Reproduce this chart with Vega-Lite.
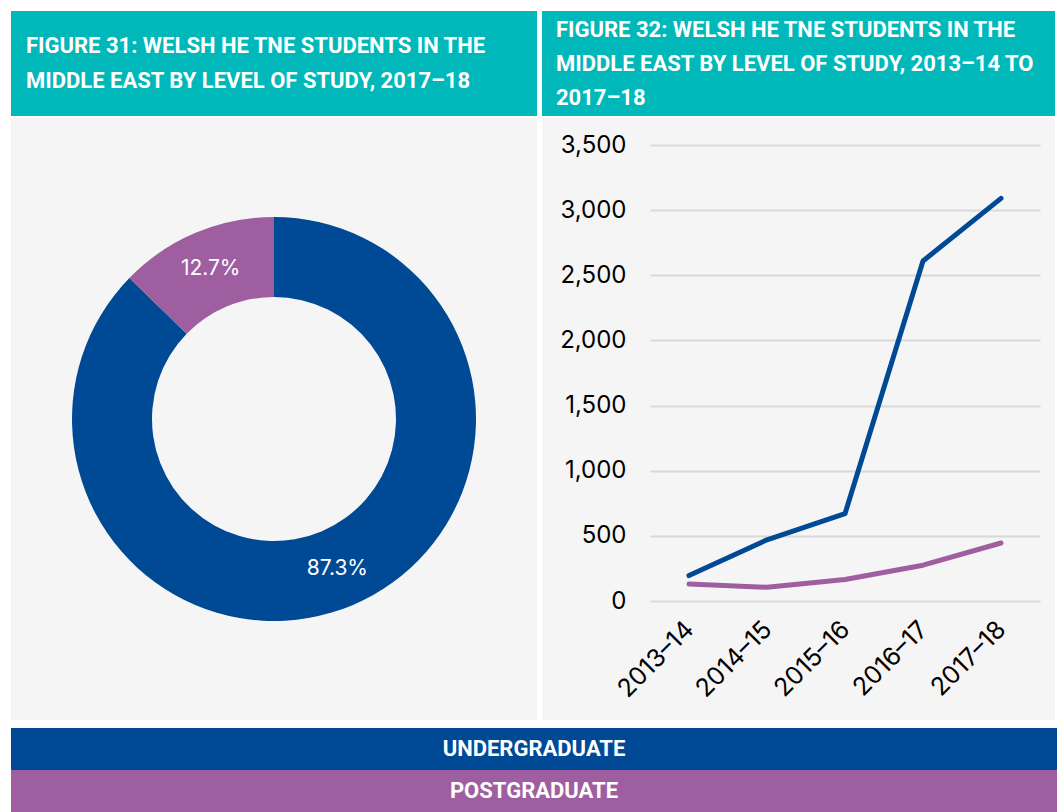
{
  "$schema": "https://vega.github.io/schema/vega-lite/v6.json",
  "background": "white",
  "padding": {"left": 11, "top": 11, "right": 0, "bottom": 0},
  "config": {
    "view": {"stroke": null},
    "font": "Inter",
    "title": {
      "font": "Roboto",
      "fontSize": 22,
      "fontWeight": "bold",
      "color": "white",
      "anchor": "start",
      "frame": "group",
      "lineHeight": 35,
      "offset": -82,
      "dx": 15
    }
  },
  "datasets": {
    "pie": [
      {"level": "UNDERGRADUATE", "share": 0.873},
      {"level": "POSTGRADUATE", "share": 0.127}
    ],
    "trend": [
      {"year": "2013–14", "level": "UNDERGRADUATE", "students": 195},
      {"year": "2014–15", "level": "UNDERGRADUATE", "students": 470},
      {"year": "2015–16", "level": "UNDERGRADUATE", "students": 670},
      {"year": "2016–17", "level": "UNDERGRADUATE", "students": 2610},
      {"year": "2017–18", "level": "UNDERGRADUATE", "students": 3090},
      {"year": "2013–14", "level": "POSTGRADUATE", "students": 130},
      {"year": "2014–15", "level": "POSTGRADUATE", "students": 105},
      {"year": "2015–16", "level": "POSTGRADUATE", "students": 165},
      {"year": "2016–17", "level": "POSTGRADUATE", "students": 275},
      {"year": "2017–18", "level": "POSTGRADUATE", "students": 445}
    ],
    "legend": [
      {"level": "UNDERGRADUATE"},
      {"level": "POSTGRADUATE"}
    ]
  },
  "spacing": 8,
  "vconcat": [
    {
      "spacing": 5,
      "hconcat": [
        {
          "spacing": 2,
          "vconcat": [
            {
              "width": 526,
              "height": 105,
              "view": {"fill": "#00B8BA"},
              "title": {"text": ["FIGURE 31: WELSH HE TNE STUDENTS IN THE", "MIDDLE EAST BY LEVEL OF STUDY, 2017–18"]},
              "data": {"values": []},
              "mark": "point"
            },
            {
              "width": 526,
              "height": 602,
              "view": {"fill": "#F5F5F5"},
              "data": {"name": "pie"},
              "encoding": {
                "theta": {"field": "share", "type": "quantitative", "stack": true},
                "order": {"field": "level", "sort": "descending"},
                "color": {
                  "field": "level",
                  "type": "nominal",
                  "scale": {"domain": ["UNDERGRADUATE", "POSTGRADUATE"], "range": ["#004A95", "#9E5E9F"]},
                  "legend": null
                }
              },
              "layer": [
                {"mark": {"type": "arc", "outerRadius": 202, "innerRadius": 122}},
                {
                  "mark": {"type": "text", "radius": 163, "fontSize": 21, "color": "white", "font": "Inter"},
                  "encoding": {
                    "text": {"field": "share", "type": "quantitative", "format": ".1%"},
                    "color": {"value": "white"}
                  }
                }
              ]
            }
          ]
        },
        {
          "spacing": 2,
          "vconcat": [
            {
              "width": 513,
              "height": 105,
              "view": {"fill": "#00B8BA"},
              "title": {"text": ["FIGURE 32: WELSH HE TNE STUDENTS IN THE", "MIDDLE EAST BY LEVEL OF STUDY, 2013–14 TO", "2017–18"], "offset": -99, "dx": 14, "lineHeight": 34},
              "data": {"values": []},
              "mark": "point"
            },
            {
              "width": 513,
              "height": 602,
              "view": {"fill": "#F5F5F5"},
              "data": {"name": "trend"},
              "mark": {"type": "line", "strokeWidth": 5, "strokeCap": "round", "strokeJoin": "round"},
              "encoding": {
                "x": {
                  "field": "year",
                  "type": "ordinal",
                  "sort": null,
                  "scale": {"type": "point", "range": [108, 498], "padding": 0.5},
                  "axis": {
                    "title": null,
                    "labelAngle": -45,
                    "labelAlign": "right",
                    "labelBaseline": "middle",
                    "offset": -119,
                    "domain": false,
                    "ticks": false,
                    "tickSize": 0,
                    "labelPadding": 24,
                    "labelFont": "Inter",
                    "labelFontSize": 25,
                    "labelColor": "#000000",
                    "grid": false
                  }
                },
                "y": {
                  "field": "students",
                  "type": "quantitative",
                  "scale": {"domain": [0, 3500], "range": [483, 27], "nice": false},
                  "axis": {
                    "title": null,
                    "values": [0, 500, 1000, 1500, 2000, 2500, 3000, 3500],
                    "format": ",.0f",
                    "offset": -100,
                    "domain": false,
                    "ticks": false,
                    "tickSize": 0,
                    "labelPadding": 16,
                    "labelFont": "Inter",
                    "labelFontSize": 24,
                    "labelColor": "#000000",
                    "grid": true,
                    "gridColor": "#D9D9D9",
                    "gridWidth": 2
                  }
                },
                "color": {
                  "field": "level",
                  "type": "nominal",
                  "scale": {"domain": ["UNDERGRADUATE", "POSTGRADUATE"], "range": ["#004A95", "#9E5E9F"]},
                  "legend": null
                }
              }
            }
          ]
        }
      ]
    },
    {
      "width": 1046,
      "height": 84,
      "data": {"name": "legend"},
      "encoding": {
        "y": {"field": "level", "type": "nominal", "sort": null, "axis": null, "scale": {"paddingInner": 0, "paddingOuter": 0}}
      },
      "layer": [
        {
          "mark": {"type": "rect"},
          "encoding": {
            "x": {"datum": 0, "type": "quantitative", "scale": {"domain": [0, 1]}, "axis": null},
            "x2": {"datum": 1},
            "color": {
              "field": "level",
              "type": "nominal",
              "scale": {"domain": ["UNDERGRADUATE", "POSTGRADUATE"], "range": ["#004A95", "#9E5E9F"]},
              "legend": null
            }
          }
        },
        {
          "mark": {"type": "text", "color": "white", "font": "Roboto", "fontSize": 22, "fontWeight": "bold"},
          "encoding": {
            "x": {"datum": 0.5, "type": "quantitative"},
            "text": {"field": "level", "type": "nominal"}
          }
        }
      ]
    }
  ]
}
